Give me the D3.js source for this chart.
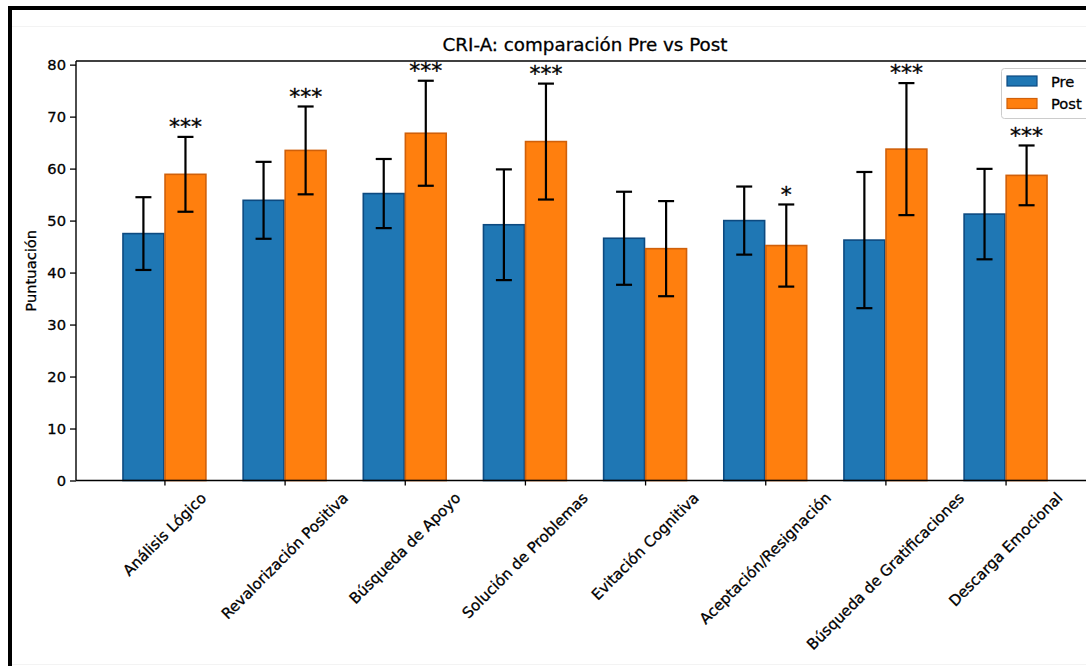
<!DOCTYPE html>
<html>
<head>
<meta charset="utf-8">
<script src="https://cdn.jsdelivr.net/npm/d3@7"></script>
<style>
  html, body { margin: 0; padding: 0; background: #ffffff; }
  svg { display: block; font-family: "DejaVu Sans", sans-serif; }
  .txt { stroke: #000; stroke-width: 0.3px; }
</style>
</head>
<body>
<svg id="chart" width="1086" height="666"></svg>
<script>
// ---- data ----
const categories = ["Análisis Lógico", "Revalorización Positiva", "Búsqueda de Apoyo", "Solución de Problemas",
                    "Evitación Cognitiva", "Aceptación/Resignación", "Búsqueda de Gratificaciones", "Descarga Emocional"];
const preMean  = [47.5, 53.9, 55.2, 49.2, 46.6, 50.0, 46.25, 51.25];
const preSd    = [7.0, 7.4, 6.65, 10.65, 8.95, 6.55, 13.1, 8.7];
const postMean = [58.9, 63.5, 66.8, 65.2, 44.6, 45.2, 63.75, 58.7];
const postSd   = [7.2, 8.45, 10.1, 11.15, 9.15, 7.9, 12.7, 5.75];
const signif   = ["***", "***", "***", "***", "", "*", "***", "***"];
const yTicks   = [0, 10, 20, 30, 40, 50, 60, 70, 80];
const seriesNames = ["Pre", "Post"];
const title = "CRI-A: comparación Pre vs Post";
const yLabel = "Puntuación";

// ---- layout ----
const svg = d3.select("#chart");
const W = 1086, H = 666;
const plot = { left: 76, right: 1094, top: 61, bottom: 480.5 };
const colors = { Pre: "#1f77b4", Post: "#ff7f0e" };
const edges  = { Pre: "#0d4a80", Post: "#d0600a" };

svg.append("rect").attr("width", W).attr("height", H).attr("fill", "#fff");

// outer frame of the picture
svg.append("line").attr("x1", 8).attr("x2", W).attr("y1", 8).attr("y2", 8)
   .attr("stroke", "#000").attr("stroke-width", 4);
svg.append("line").attr("x1", 10).attr("x2", 10).attr("y1", 6).attr("y2", H)
   .attr("stroke", "#000").attr("stroke-width", 4);
svg.append("line").attr("x1", 12).attr("x2", W).attr("y1", 26.5).attr("y2", 26.5)
   .attr("stroke", "#f3f3f3").attr("stroke-width", 1);
svg.append("line").attr("x1", 12).attr("x2", W).attr("y1", 664.5).attr("y2", 664.5)
   .attr("stroke", "#f3f3f3").attr("stroke-width", 1);

const x = d3.scalePoint().domain(categories).range([plot.left, plot.right]).padding(0.736);
const step = x.step();
const bw = 0.35 * step;
const y = d3.scaleLinear().domain([0, 80.7]).range([plot.bottom, plot.top]);

const g = svg.append("g");

// bars
const series = [
  { name: "Pre",  mean: preMean,  sd: preSd,  off: -bw / 2 },
  { name: "Post", mean: postMean, sd: postSd, off:  bw / 2 }
];

series.forEach(s => {
  const gs = g.append("g");
  gs.selectAll("rect").data(categories).join("rect")
    .attr("x", (c) => x(c) + s.off - bw / 2 + 0.6)
    .attr("width", bw - 1.2)
    .attr("y", (c, i) => y(s.mean[i]))
    .attr("height", (c, i) => y(0) - y(s.mean[i]))
    .attr("fill", colors[s.name])
    .attr("stroke", edges[s.name])
    .attr("stroke-width", 1.6);
});

// error bars
const cap = 8;
series.forEach(s => {
  const ge = g.append("g").attr("stroke", "#000").attr("stroke-width", 2.2);
  categories.forEach((c, i) => {
    const cx = x(c) + s.off;
    const y1 = y(s.mean[i] + s.sd[i]), y0 = y(s.mean[i] - s.sd[i]);
    ge.append("line").attr("x1", cx).attr("x2", cx).attr("y1", y1).attr("y2", y0);
    ge.append("line").attr("x1", cx - cap).attr("x2", cx + cap).attr("y1", y1).attr("y2", y1);
    ge.append("line").attr("x1", cx - cap).attr("x2", cx + cap).attr("y1", y0).attr("y2", y0);
  });
});

// significance stars above Post bars
g.append("g").selectAll("text").data(categories).join("text")
  .attr("class", "txt")
  .attr("x", c => x(c) + bw / 2)
  .attr("y", (c, i) => y(postMean[i] + postSd[i] + 0.5))
  .attr("text-anchor", "middle")
  .attr("font-size", 22)
  .attr("fill", "#000")
  .text((c, i) => signif[i]);

// axes spines
svg.append("line").attr("x1", plot.left).attr("x2", plot.left).attr("y1", plot.top).attr("y2", plot.bottom)
   .attr("stroke", "#000").attr("stroke-width", 1.4);
svg.append("line").attr("x1", plot.left).attr("x2", W).attr("y1", plot.top).attr("y2", plot.top)
   .attr("stroke", "#000").attr("stroke-width", 1.4);
svg.append("line").attr("x1", plot.left).attr("x2", W).attr("y1", plot.bottom).attr("y2", plot.bottom)
   .attr("stroke", "#000").attr("stroke-width", 1.4);

// y axis
const yAxis = d3.axisLeft(y).tickValues(yTicks).tickSize(6).tickPadding(4).tickFormat(d3.format("d"));
const gy = svg.append("g").attr("transform", `translate(${plot.left},0)`).call(yAxis);
gy.select(".domain").remove();
gy.selectAll(".tick line").attr("stroke", "#000").attr("stroke-width", 1.3);
gy.selectAll(".tick text").attr("class", "txt").attr("font-size", 14.7).attr("fill", "#000")
  .attr("font-family", "DejaVu Sans, sans-serif");

// x axis ticks
const xAxis = d3.axisBottom(x).tickSize(5).tickFormat("");
const gx = svg.append("g").attr("transform", `translate(0,${plot.bottom})`).call(xAxis);
gx.select(".domain").remove();
gx.selectAll(".tick line").attr("stroke", "#000").attr("stroke-width", 1.3);

// rotated x tick labels (bbox centred under tick, 45 degrees)
const fs = 15, lineH = fs * 1.164, topY = 489;
const lbls = svg.append("g").attr("font-size", fs).attr("fill", "#000");
categories.forEach(c => {
  const t = lbls.append("text").attr("class", "txt").attr("text-anchor", "middle").attr("dy", "0.35em").text(c);
  const w = t.node().getComputedTextLength();
  const half = (w + lineH) * Math.SQRT1_2 / 2;
  t.attr("transform", `translate(${x(c)},${topY + half}) rotate(-45)`);
});

// title
svg.append("text").attr("class", "txt").attr("x", (plot.left + plot.right) / 2).attr("y", 51)
   .attr("text-anchor", "middle").attr("font-size", 18.3).attr("fill", "#000").text(title);

// y label
svg.append("text").attr("class", "txt").attr("transform", `translate(36,${(plot.top + plot.bottom) / 2}) rotate(-90)`)
   .attr("text-anchor", "middle").attr("font-size", 14.7).attr("fill", "#000").text(yLabel);

// legend
const lg = svg.append("g");
lg.append("rect").attr("x", 1001.5).attr("y", 68.5).attr("width", 90).attr("height", 50).attr("rx", 3)
  .attr("fill", "#fff").attr("fill-opacity", 0.8).attr("stroke", "#cccccc").attr("stroke-width", 1);
seriesNames.forEach((n, i) => {
  const yy = 76 + i * 22.5;
  lg.append("rect").attr("x", 1007).attr("y", yy).attr("width", 30).attr("height", 10)
    .attr("fill", colors[n]).attr("stroke", edges[n]).attr("stroke-width", 1.2);
  lg.append("text").attr("class", "txt").attr("x", 1051).attr("y", yy + 10.5).attr("font-size", 14.7)
    .attr("fill", "#000").text(n);
});
</script>
</body>
</html>
